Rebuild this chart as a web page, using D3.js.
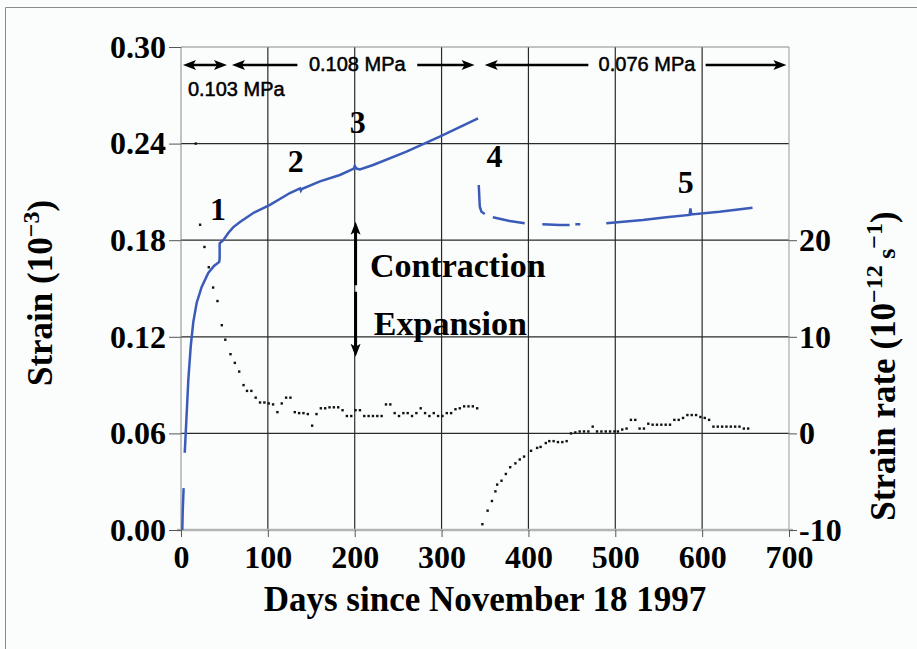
<!DOCTYPE html>
<html>
<head>
<meta charset="utf-8">
<script src="https://cdn.jsdelivr.net/npm/d3@7"></script>
<style>
  body { margin: 0; background: #fbfcfc; }
  svg { display: block; }
</style>
</head>
<body>
<div id="chart"></div>
<script>
// tick values
const xTicks = [0, 100, 200, 300, 400, 500, 600, 700]
const strainTicks = [0, 0.06, 0.12, 0.18, 0.24, 0.30]
const rateTicks = [-10, 0, 10, 20]

// strain (10^-3), null = break in the line
const strainDays = [1.5, 2, 3, 3.5,
  4.3, 6.6, 8.4, 11.2, 14.1, 18, 23.8, 31.4, 38, 44, 44.5, 44.5, 48.7, 54.4, 60, 67.9, 83.2, 102.4,
  125.4, 137, 138, 139, 160, 182.9, 199, 200, 202, 205.9, 221.2, 259.6, 297.9, 342, 342.5,
  342.8, 344, 345.9, 349.7, 352,
  359, 378.4, 395.7, 405,
  416, 436, 447.4, 450,
  454, 459.7, 470,
  489.6, 531.8, 558.6, 585.5, 586.5, 587.5, 620, 658]
const strainVals = [0, 0.012, 0.026, null,
  0.048, 0.073, 0.093, 0.114, 0.129, 0.141, 0.151, 0.1596, 0.164, 0.1665, 0.169, 0.178, 0.180, 0.1845, 0.188, 0.1913, 0.1969, 0.2019,
  0.2093, 0.2122, 0.2108, 0.2118, 0.2165, 0.2205, 0.2245, 0.2262, 0.2245, 0.2240, 0.2267, 0.235, 0.2443, 0.2557, null,
  0.2143, 0.2008, 0.1977, 0.1963, null,
  0.1942, 0.1919, 0.1905, null,
  0.1899, 0.1894, 0.1894, null,
  0.1899, 0.1899, null,
  0.1905, 0.1925, 0.1942, 0.1957, 0.1998, 0.1960, 0.1977, 0.2002]

// strain rate (10^-12 s^-1)
const rateDays = [17, 22, 27, 32, 37, 42, 47, 51, 57, 62, 67, 72, 76, 81, 86, 91, 96, 101, 106, 111,
  116, 121, 126, 131, 136, 141, 146, 151, 156, 161, 166, 171, 176, 181, 186, 191, 196, 201, 206, 211,
  216, 221, 226, 231, 236, 241, 246, 251, 256, 261, 266, 271, 276, 281, 286, 291, 296, 301, 306, 311,
  316, 321, 326, 331, 336, 341,
  347, 353, 358, 362, 364, 369, 374, 379, 385, 390, 395, 403, 410, 414, 420, 424, 429, 434, 439, 444,
  449, 454, 459, 464, 469, 474, 479, 484, 489, 494, 499, 503, 508, 513, 518, 523, 528, 533, 538, 543,
  548, 553, 558, 563, 568, 573, 578, 583, 588, 593, 598, 603, 608, 613, 618, 623, 628, 633, 638, 643,
  648, 653]
const rateVals = [30.0, 21.6, 19.3, 17.2, 15.1, 13.7, 11.2, 9.7, 8.2, 7.3, 6.4, 5.0, 4.4, 4.4, 3.7, 3.2, 3.2, 3.1, 3.0, 2.2,
  3.1, 3.7, 3.7, 2.2, 2.1, 2.1, 2.0, 0.8, 2.0, 2.6, 2.6, 2.7, 2.7, 2.7, 2.4, 1.8, 1.8, 2.4, 2.4, 1.8,
  1.8, 1.8, 1.8, 1.8, 3.0, 3.0, 2.1, 1.8, 2.1, 2.1, 1.8, 2.1, 2.6, 2.1, 1.8, 2.1, 1.8, 1.8, 2.1, 2.1,
  2.5, 2.6, 2.8, 2.8, 2.8, 2.6,
  -9.4, -8.0, -7.0, -6.0, -5.3, -4.9, -4.2, -3.5, -3.1, -2.7, -2.4, -1.8, -1.5, -1.4, -1.0, -0.8, -0.8, -0.9, -0.9, -0.8,
  0.0, 0.1, 0.2, 0.2, 0.2, 0.7, 0.2, 0.2, 0.2, 0.2, 0.2, 0.2, 0.4, 0.5, 1.4, 1.4, 0.5, 0.5, 1.0, 0.9,
  0.9, 0.9, 0.9, 0.9, 1.4, 1.4, 1.6, 1.9, 1.9, 1.9, 1.7, 1.6, 1.4, 0.7, 0.7, 0.7, 0.7, 0.7, 0.7, 0.7,
  0.5, 0.5]

// stress periods (days) and labels
const stressLabels = ['0.103 MPa', '0.108 MPa', '0.076 MPa']
const stressStart = [2.3, 58.7, 349.7]
const stressEnd = [52.9, 338, 697]
const stressGap = [null, [134, 272], [469, 604]]

// event numbers
const eventLabels = ['1', '2', '3', '4', '5']
const eventDays = [42.6, 132, 203.6, 361, 581]
const eventStrain = [0.1925, 0.2224, 0.2466, 0.2255, 0.2093]

const width = 917
const height = 649
const margin = {top: 47, right: 128, bottom: 119, left: 181}
const serif = '"Liberation Serif", "Times New Roman", serif'
const sans = '"Liberation Sans", Arial, sans-serif'

const x = d3.scaleLinear().domain([0, 700]).range([margin.left, width - margin.right])
const yL = d3.scaleLinear().domain([0, 0.30]).range([height - margin.bottom, margin.top])
const yR = d3.scaleLinear().domain([-10, 40]).range([height - margin.bottom, margin.top])

const svg = d3.select('#chart').append('svg')
  .attr('width', width)
  .attr('height', height)

svg.append('rect').attr('width', width).attr('height', height).attr('fill', '#fbfcfc')
// outer frame (only top and left are visible)
svg.append('path').attr('d', 'M5.5,649V7.5H917').attr('fill', 'none').attr('stroke', '#8a8a8a')

// grid
const grid = svg.append('g').attr('stroke', '#2a2a2a').attr('stroke-width', 1.2)
grid.selectAll('.vg').data(xTicks.slice(1, -1)).enter().append('line')
  .attr('x1', d => x(d)).attr('x2', d => x(d))
  .attr('y1', yL(0)).attr('y2', yL(0.30))
grid.selectAll('.hg').data(strainTicks.slice(1, -1)).enter().append('line')
  .attr('x1', x(0)).attr('x2', x(700))
  .attr('y1', d => yL(d)).attr('y2', d => yL(d))

// plot frame
svg.append('line').attr('x1', x(0)).attr('x2', x(700)).attr('y1', yL(0.30)).attr('y2', yL(0.30)).attr('stroke', '#888')
svg.append('line').attr('x1', x(0)).attr('x2', x(0)).attr('y1', yL(0)).attr('y2', yL(0.30)).attr('stroke', '#888')
svg.append('line').attr('x1', x(700)).attr('x2', x(700)).attr('y1', yL(0)).attr('y2', yL(0.30)).attr('stroke', '#999')
svg.append('line').attr('x1', x(0) - 4).attr('x2', x(700) + 4).attr('y1', yL(0)).attr('y2', yL(0)).attr('stroke', '#b4b4b4').attr('stroke-width', 2.5)

// axes
function styleAxis(g) {
  g.select('.domain').remove()
  g.selectAll('.tick line').attr('stroke', '#555')
  g.selectAll('.tick text').attr('font-family', serif).attr('font-weight', 'bold')
    .attr('font-size', 32).attr('fill', '#000')
}
svg.append('g').attr('transform', `translate(0,${yL(0)})`)
  .call(d3.axisBottom(x).tickValues(xTicks).tickFormat(d3.format('d')).tickSize(7).tickPadding(8))
  .call(styleAxis)
svg.append('g').attr('transform', `translate(${x(0)},0)`)
  .call(d3.axisLeft(yL).tickValues(strainTicks).tickFormat(d3.format('.2f')).tickSize(12).tickPadding(3))
  .call(styleAxis)
svg.append('g').attr('transform', `translate(${x(700)},0)`)
  .call(d3.axisRight(yR).tickValues(rateTicks).tickFormat(d => d).tickSize(8).tickPadding(2))
  .call(styleAxis)

// axis titles
svg.append('text').attr('x', (x(0) + x(700)) / 2).attr('y', 611)
  .attr('text-anchor', 'middle').attr('font-family', serif).attr('font-weight', 'bold').attr('font-size', 35)
  .text('Days since November 18 1997')

const lt = svg.append('text').attr('transform', 'translate(52,293) rotate(-90)')
  .attr('text-anchor', 'middle').attr('font-family', serif).attr('font-weight', 'bold').attr('font-size', 35)
lt.append('tspan').text('Strain (10')
lt.append('tspan').attr('dy', -13).attr('font-size', 24).text('\u22123')
lt.append('tspan').attr('dy', 13).text(')')

const rt = svg.append('text').attr('transform', 'translate(895,366) rotate(-90)')
  .attr('text-anchor', 'middle').attr('font-family', serif).attr('font-weight', 'bold').attr('font-size', 35)
rt.append('tspan').text('Strain rate (10')
rt.append('tspan').attr('dy', -13).attr('font-size', 24).text('\u221212')
rt.append('tspan').attr('dy', 13).attr('font-size', 26).text(' s')
rt.append('tspan').attr('dy', -13).attr('font-size', 24).text('\u22121')
rt.append('tspan').attr('dy', 13).text(')')

// strain rate dots
const rates = rateDays.map((d, i) => [d, rateVals[i]])
svg.append('g').selectAll('rect').data(rates).enter().append('rect')
  .attr('x', d => x(d[0]) - 1.2).attr('y', d => yR(d[1]) - 1.2)
  .attr('width', 2.4).attr('height', 2.4).attr('fill', '#111')

// strain line
const strain = strainDays.map((d, i) => [d, strainVals[i]])
const line = d3.line().defined(d => d[1] !== null).x(d => x(d[0])).y(d => yL(d[1]))
svg.append('path').datum(strain).attr('d', line)
  .attr('fill', 'none').attr('stroke', '#3a5bb8').attr('stroke-width', 2.5)

// arrowheads
function head(g, px, py, dir) {
  // dir: 'l', 'r', 'u', 'd'
  const L = 13, W = 5
  let pts
  if (dir === 'l') pts = [[px, py], [px + L, py - W], [px + L - 3, py], [px + L, py + W]]
  if (dir === 'r') pts = [[px, py], [px - L, py - W], [px - L + 3, py], [px - L, py + W]]
  if (dir === 'u') pts = [[px, py], [px - W, py + L], [px, py + L - 3], [px + W, py + L]]
  if (dir === 'd') pts = [[px, py], [px - W, py - L], [px, py - L + 3], [px + W, py - L]]
  g.append('polygon').attr('points', pts.map(p => p.join(',')).join(' ')).attr('fill', '#000')
}

// stress period arrows
const ann = svg.append('g')
const arrowY = yL(0.2888)
function mpaText(sel) {
  sel.attr('font-family', sans).attr('font-size', 20)
    .attr('stroke', '#000').attr('stroke-width', 0.5)
}
stressLabels.forEach((lab, i) => {
  const x1 = x(stressStart[i]), x2 = x(stressEnd[i])
  if (stressGap[i]) {
    ann.append('line').attr('x1', x1 + 6).attr('x2', x(stressGap[i][0])).attr('y1', arrowY).attr('y2', arrowY)
      .attr('stroke', '#000').attr('stroke-width', 2.6)
    ann.append('line').attr('x1', x(stressGap[i][1])).attr('x2', x2 - 6).attr('y1', arrowY).attr('y2', arrowY)
      .attr('stroke', '#000').attr('stroke-width', 2.6)
    ann.append('text').attr('x', (x(stressGap[i][0]) + x(stressGap[i][1])) / 2).attr('y', arrowY + 6)
      .attr('text-anchor', 'middle').call(mpaText).text(lab)
  } else {
    ann.append('line').attr('x1', x1 + 6).attr('x2', x2 - 6).attr('y1', arrowY).attr('y2', arrowY)
      .attr('stroke', '#000').attr('stroke-width', 2.6)
    ann.append('text').attr('x', x(8)).attr('y', yL(0.2696))
      .call(mpaText).text(lab)
  }
  head(ann, x1, arrowY, 'l')
  head(ann, x2, arrowY, 'r')
})

// contraction / expansion arrow
const cx = x(201)
ann.append('line').attr('x1', cx).attr('x2', cx).attr('y1', yL(0.1915) + 6).attr('y2', yL(0.152))
  .attr('stroke', '#000').attr('stroke-width', 3)
ann.append('line').attr('x1', cx).attr('x2', cx).attr('y1', yL(0.148)).attr('y2', yL(0.1076) - 6)
  .attr('stroke', '#000').attr('stroke-width', 3)
head(ann, cx, yL(0.1915), 'u')
head(ann, cx, yL(0.1076), 'd')
ann.append('text').attr('x', x(217.5)).attr('y', yL(0.1571))
  .attr('font-family', serif).attr('font-weight', 'bold').attr('font-size', 34).text('Contraction')
ann.append('text').attr('x', x(222)).attr('y', yL(0.1211))
  .attr('font-family', serif).attr('font-weight', 'bold').attr('font-size', 34).text('Expansion')

// event numbers
ann.selectAll('.ev').data(eventLabels).enter().append('text')
  .attr('x', (d, i) => x(eventDays[i])).attr('y', (d, i) => yL(eventStrain[i]))
  .attr('text-anchor', 'middle').attr('font-family', serif).attr('font-weight', 'bold').attr('font-size', 32)
  .text(d => d)
</script>
</body>
</html>
